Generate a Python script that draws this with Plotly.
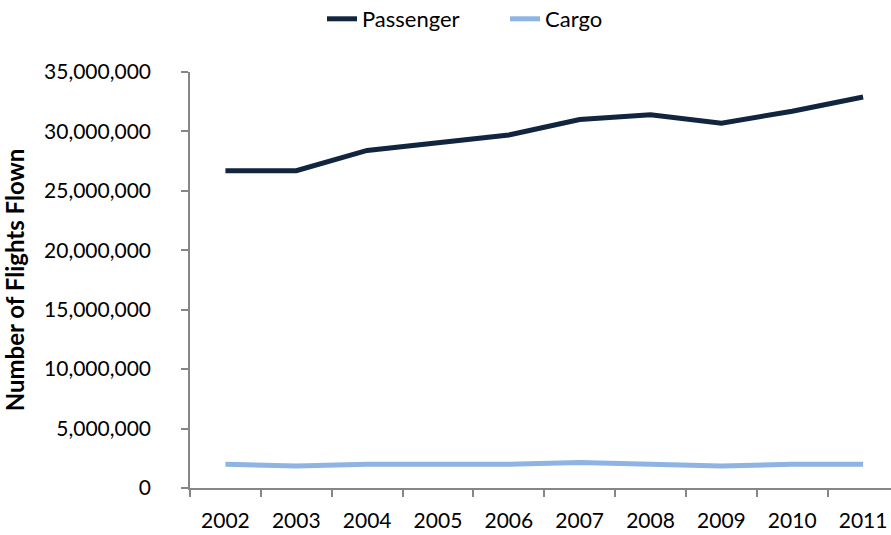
import plotly.graph_objects as go

years = ["2002", "2003", "2004", "2005", "2006", "2007", "2008", "2009", "2010", "2011"]
passenger = [26.7e6, 26.7e6, 28.4e6, 29.0e6, 29.7e6, 31.0e6, 31.4e6, 30.7e6, 31.7e6, 32.9e6]
cargo = [2.0e6, 1.85e6, 2.0e6, 2.0e6, 2.0e6, 2.15e6, 2.0e6, 1.85e6, 2.0e6, 2.0e6]

font_family = "Lato, 'Open Sans', sans-serif"
axis_grey = "#868686"

W, H = 891, 535

fig = go.Figure()
fig.add_trace(go.Scatter(x=years, y=passenger, mode="lines", name="Passenger",
                         line=dict(color="#12253F", width=5)))
fig.add_trace(go.Scatter(x=years, y=cargo, mode="lines", name="Cargo",
                         line=dict(color="#8DB4E2", width=5)))

fig.update_layout(
    width=W, height=H,
    margin=dict(l=189.5, r=0, t=72, b=47),
    paper_bgcolor="white", plot_bgcolor="white",
    font=dict(family=font_family, size=22, color="black"),
    showlegend=True,
    legend=dict(orientation="h", x=322 / W, xanchor="left", xref="container",
                y=1 - 19 / H, yref="container", yanchor="middle",
                entrywidth=138, entrywidthmode="pixels",
                font=dict(size=22), bgcolor="rgba(0,0,0,0)"),
    # the reference's last category runs past the right edge of the image
    xaxis=dict(type="category", range=[-0.5, 9.394], tickson="boundaries",
               ticks="outside", ticklen=7, tickcolor=axis_grey, tickwidth=1.5,
               showline=True, linecolor=axis_grey, linewidth=1.5,
               showgrid=False, zeroline=False, automargin=False,
               ticklabelstandoff=13, tickfont=dict(size=21)),
    yaxis=dict(range=[0, 35e6], dtick=5e6, tickformat=",", ticks="outside",
               ticklen=7, tickcolor=axis_grey, tickwidth=1.5, showline=True,
               linecolor=axis_grey, linewidth=1.5, showgrid=False,
               zeroline=False, automargin=False, ticklabelstandoff=26,
               tickfont=dict(size=21),
               title=dict(text="<b>Number of Flights Flown</b>",
                          font=dict(size=24), standoff=23)),
)

fig.write_html(
    "out.html",
    config={"displayModeBar": False},
    post_script="document.body.style.margin='0';document.body.style.overflow='hidden';",
)
